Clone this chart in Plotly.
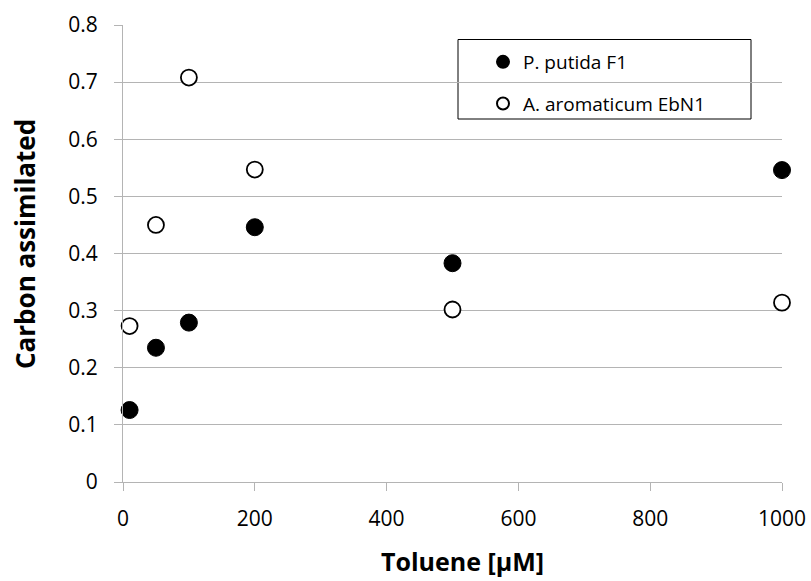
import plotly.graph_objects as go

# Toluene concentration (µM) and fraction of carbon assimilated
toluene_um = [10, 50, 100, 200, 500, 1000]
putida_f1 = [0.126, 0.235, 0.279, 0.446, 0.383, 0.546]
aromaticum_ebn1 = [0.273, 0.450, 0.708, 0.547, 0.302, 0.314]

x_ticks = [0, 200, 400, 600, 800, 1000]
y_ticks = [0, 0.1, 0.2, 0.3, 0.4, 0.5, 0.6, 0.7, 0.8]
y_tick_labels = ["0", "0.1", "0.2", "0.3", "0.4", "0.5", "0.6", "0.7", "0.8"]

W, H = 811, 581
ML, MR, MT, MB = 123, 29, 25, 99
PW, PH = W - ML - MR, H - MT - MB


def px_x(p):
    return (p - ML) / PW


def px_y(p):
    return (H - MB - p) / PH


FONT = "Open Sans"
GRID = "#b4b4b4"

fig = go.Figure()
fig.add_trace(go.Scatter(
    x=toluene_um, y=putida_f1, mode="markers", name="P. putida F1",
    legendgroup="a",
    marker=dict(size=17, color="black", line=dict(color="black", width=1)),
    cliponaxis=False,
))
fig.add_trace(go.Scatter(
    x=toluene_um, y=aromaticum_ebn1, mode="markers", name="A. aromaticum EbN1",
    legendgroup="b",
    marker=dict(size=16, color="white", line=dict(color="black", width=1.8)),
    cliponaxis=False,
))

# legend frame
fig.add_shape(type="rect", xref="paper", yref="paper",
              x0=px_x(458), x1=px_x(751), y0=px_y(119), y1=px_y(39.5),
              line=dict(color="black", width=1), fillcolor="white", layer="below")

# axis titles
fig.add_annotation(text="<b>Carbon assimilated</b>", xref="paper", yref="paper",
                   x=px_x(25), y=px_y(244), xanchor="center", yanchor="middle",
                   textangle=-90, showarrow=False,
                   font=dict(family=FONT, size=26, color="black"))
fig.add_annotation(text="<b>Toluene [µM]</b>", xref="paper", yref="paper",
                   x=px_x(462), y=px_y(561), xanchor="center", yanchor="middle",
                   showarrow=False,
                   font=dict(family=FONT, size=25, color="black"))

fig.update_layout(
    width=W, height=H,
    margin=dict(l=ML, r=MR, t=MT, b=MB, autoexpand=False),
    paper_bgcolor="white", plot_bgcolor="white",
    font=dict(family=FONT, color="black"),
    showlegend=True,
    legend=dict(
        x=px_x(483), y=px_y(43), xanchor="left", yanchor="top",
        bgcolor="rgba(0,0,0,0)", borderwidth=0,
        font=dict(family=FONT, size=19, color="black"),
        itemsizing="constant", traceorder="grouped", tracegroupgap=14,
    ),
    xaxis=dict(
        range=[0, 1000], tickvals=x_ticks, ticks="outside", ticklen=8,
        tickcolor=GRID, tickwidth=1, showgrid=False, zeroline=False,
        showline=True, linecolor=GRID, linewidth=1,
        tickfont=dict(family=FONT, size=21, color="black"),
        ticklabelstandoff=10,
        fixedrange=True,
    ),
    yaxis=dict(
        range=[0, 0.8], tickvals=y_ticks, ticktext=y_tick_labels, ticks="outside", ticklen=8,
        tickcolor=GRID, tickwidth=1, showgrid=True, gridcolor=GRID, gridwidth=1,
        zeroline=False, showline=True, linecolor=GRID, linewidth=1,
        tickfont=dict(family=FONT, size=21, color="black"),
        ticklabelstandoff=12,
        fixedrange=True,
    ),
)

fig.write_html("out.html")
